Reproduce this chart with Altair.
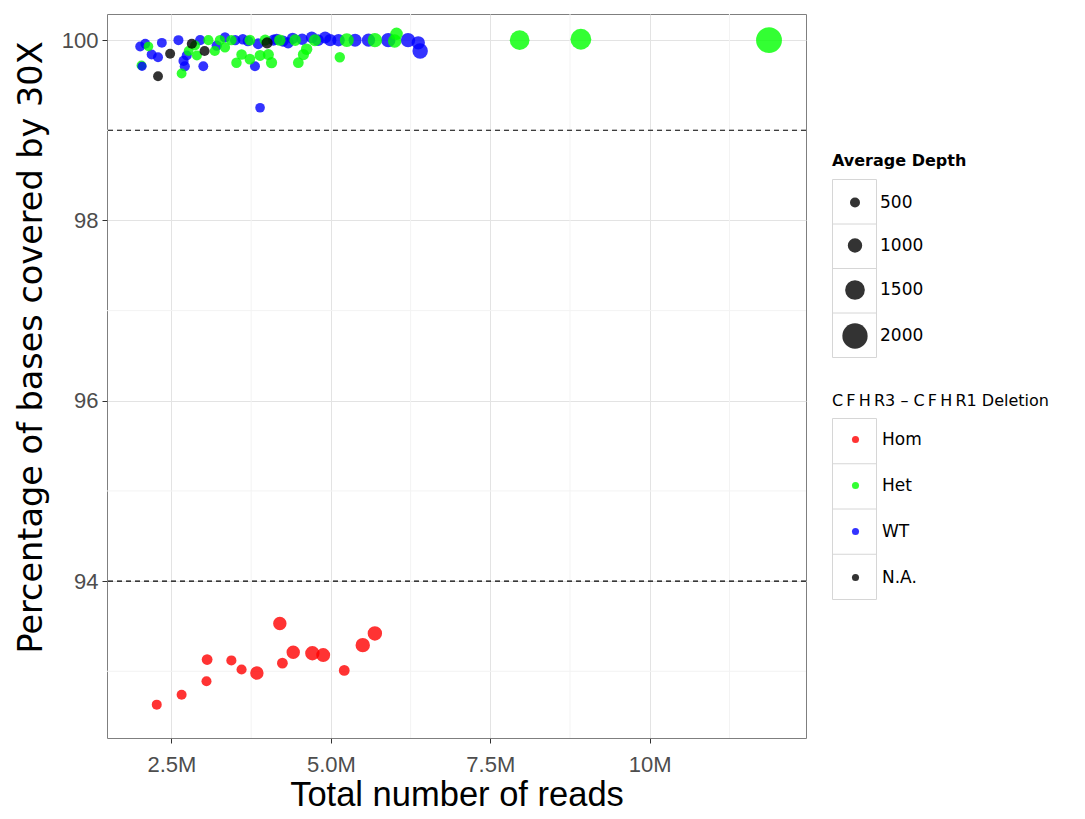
import altair as alt
import pandas as pd

# ---- data (reads in millions) ----
groups = ["Hom", "Het", "WT", "N.A."]
group_colors = ["#FF0000", "#00FF00", "#0000FF", "#000000"]
depth_levels = [500, 1000, 1500, 2000]

x_major = [2.5, 5.0, 7.5, 10.0]
x_minor = [3.75, 6.25, 8.75, 11.25]
y_major = [94, 96, 98, 100]
y_minor = [93, 95, 97, 99]
cutoffs = [99, 94]

het_early_reads = [2.03]
het_early_pct = [99.72]
het_early_depth = [470]

wt_reads = [2.01, 2.09, 2.04, 2.19, 2.29, 2.35, 2.61, 2.69, 2.74, 2.71, 2.95, 3.00,
            3.21, 3.34, 3.50, 3.62, 3.70, 3.81, 3.86, 3.89, 4.10, 4.15, 4.25, 4.33,
            4.40, 4.55, 4.70, 4.80, 4.91, 4.99, 5.12, 5.38, 5.59, 5.90, 6.21, 6.37, 6.40]
wt_pct = [99.93, 99.96, 99.71, 99.84, 99.81, 99.97, 100.00, 99.77, 99.83, 99.71, 100.00, 99.71,
          99.94, 100.03, 100.00, 100.01, 99.99, 99.71, 99.96, 99.25, 100.00, 100.01, 99.99, 99.97,
          100.02, 100.01, 100.03, 100.00, 100.03, 100.00, 100.00, 100.00, 100.00, 100.00, 100.00, 99.97, 99.88]
wt_depth = [480, 470, 380, 500, 500, 480, 500, 520, 500, 520, 520, 480,
            540, 540, 560, 570, 580, 500, 600, 450, 640, 650, 650, 660,
            680, 700, 720, 720, 750, 780, 800, 850, 880, 1000, 1000, 900, 1100]

het_reads = [2.14, 2.66, 2.77, 2.87, 2.90, 3.08, 3.18, 3.26, 3.34, 3.44, 3.52, 3.60,
             3.73, 3.73, 3.89, 3.97, 4.02, 4.07, 4.20, 4.44, 4.49, 4.57, 4.62, 4.75,
             5.14, 5.25, 5.69, 6.00, 6.03, 7.96, 8.92, 11.87]
het_pct = [99.93, 99.63, 99.88, 99.94, 99.83, 100.00, 99.88, 100.00, 99.92, 100.00, 99.75, 99.84,
           99.79, 100.00, 99.83, 100.00, 99.84, 99.75, 100.00, 100.00, 99.75, 99.84, 99.90, 100.00,
           99.81, 100.00, 100.00, 99.99, 100.07, 100.00, 100.01, 100.00]
het_depth = [450, 480, 480, 500, 500, 520, 520, 540, 540, 560, 560, 580,
             600, 600, 620, 650, 640, 650, 680, 700, 600, 650, 680, 750,
             560, 950, 1000, 900, 800, 1500, 1600, 2050]

na_reads = [2.29, 2.48, 2.82, 3.02, 4.00]
na_pct = [99.60, 99.85, 99.96, 99.88, 99.97]
na_depth = [480, 500, 520, 520, 650]

hom_reads = [2.27, 2.66, 3.06, 3.05, 3.44, 3.60, 3.84, 4.20, 4.24, 4.41, 4.71, 4.88, 5.21, 5.50, 5.69]
hom_pct = [92.63, 92.74, 93.13, 92.89, 93.12, 93.02, 92.98, 93.53, 93.09, 93.21, 93.20, 93.18, 93.01, 93.29, 93.42]
hom_depth = [500, 500, 600, 500, 520, 520, 900, 900, 600, 900, 1000, 950, 600, 1000, 1000]


def block(reads, pct, depth, name):
    return pd.DataFrame({"reads": reads, "pct": pct, "depth": depth, "deletion": name})


df = pd.concat([
    block(het_early_reads, het_early_pct, het_early_depth, "Het"),
    block(wt_reads, wt_pct, wt_depth, "WT"),
    block(het_reads, het_pct, het_depth, "Het"),
    block(na_reads, na_pct, na_depth, "N.A."),
    block(hom_reads, hom_pct, hom_depth, "Hom"),
], ignore_index=True)

FONT = "Liberation Sans"
LFONT = "DejaVu Sans"
BOX = "#d6d6d6"


def key_frame(side, box_w, n):
    """SVG path (unit square -1..1) of a column of n stacked legend-key boxes."""
    hw = box_w / side
    p = "M%.4f,-1H%.4fV1H%.4fZ" % (-hw, hw, -hw)
    for i in range(1, n):
        yy = -1 + 2.0 * i / n
        p += " M%.4f,%.4fH%.4f" % (-hw, yy, hw)
    return p


SIZE_SIDE = 178.0
COLOR_SIDE = 181.0
size_frame = key_frame(SIZE_SIDE, 44.0, len(depth_levels))
color_frame = key_frame(COLOR_SIDE, 44.0, len(groups))

x_scale = alt.Scale(domain=[1.49, 12.45], nice=False, zero=False)
y_scale = alt.Scale(domain=[92.26, 100.29], nice=False, zero=False)

x_axis = alt.Axis(
    values=x_major, grid=True, gridColor="#e3e3e3", domain=False,
    labelExpr="datum.value == 10 ? '10M' : format(datum.value, '.1f') + 'M'",
    tickColor="#333333", tickSize=5, labelPadding=11, labelFontSize=22,
    labelColor="#4d4d4d", labelFont=FONT, title="Total number of reads",
    titleFontSize=34.5, titleFont=FONT, titleFontWeight="normal", titleColor="#000000",
    titlePadding=3,
)
y_axis = alt.Axis(
    values=y_major, grid=True, gridColor="#e3e3e3", domain=False,
    tickColor="#333333", tickSize=5, labelPadding=4, labelFontSize=22,
    labelColor="#4d4d4d", labelFont=FONT, title="Percentage of bases covered by 30X",
    titleFontSize=33.5, titleFont=LFONT, titleFontWeight="normal", titleColor="#000000",
    titlePadding=13, titleY=333,
)

minor_v = alt.Chart(pd.DataFrame({"reads": x_minor})).mark_rule(
    color="#f3f3f3", strokeWidth=1
).encode(x=alt.X("reads:Q", scale=x_scale, axis=x_axis))

minor_h = alt.Chart(pd.DataFrame({"pct": y_minor})).mark_rule(
    color="#f3f3f3", strokeWidth=1
).encode(y=alt.Y("pct:Q", scale=y_scale, axis=y_axis))

cut = alt.Chart(pd.DataFrame({"pct": cutoffs})).mark_rule(
    color="#000000", strokeWidth=1.1, strokeDash=[5, 4]
).encode(y=alt.Y("pct:Q", scale=y_scale, axis=y_axis))

# invisible layers whose legends draw the grey key boxes behind the real legends
size_boxes = alt.Chart(pd.DataFrame({"skey": ["size-keys"]})).mark_point(opacity=0).encode(
    shape=alt.Shape(
        "skey:N",
        scale=alt.Scale(domain=["size-keys"], range=[size_frame]),
        legend=alt.Legend(
            title=None, orient="none", legendX=725 + 22 - SIZE_SIDE / 2, legendY=165,
            labelExpr="''", symbolSize=SIZE_SIDE ** 2, symbolFillColor="white",
            symbolStrokeColor=BOX, symbolStrokeWidth=1, symbolOpacity=1,
            symbolOffset=0, zindex=0,
        ),
    )
)
color_boxes = alt.Chart(pd.DataFrame({"ckey": ["color-keys"]})).mark_point(opacity=0).encode(
    stroke=alt.Stroke(
        "ckey:N",
        scale=alt.Scale(domain=["color-keys"], range=[BOX]),
        legend=alt.Legend(
            title=None, orient="none", legendX=725 + 22 - COLOR_SIDE / 2, legendY=404,
            labelExpr="''", symbolType=color_frame, symbolSize=COLOR_SIDE ** 2,
            symbolFillColor="white", symbolStrokeWidth=1, symbolOpacity=1,
            symbolOffset=0, zindex=0,
        ),
    )
)

points = alt.Chart(df).mark_circle(opacity=0.8).encode(
    x=alt.X("reads:Q", scale=x_scale, axis=x_axis),
    y=alt.Y("pct:Q", scale=y_scale, axis=y_axis),
    size=alt.Size(
        "depth:Q",
        scale=alt.Scale(type="pow", exponent=2, domain=[500, 2000], range=[100, 640]),
        legend=alt.Legend(
            title="Average Depth", values=depth_levels, format="d", orient="none",
            legendX=725, legendY=139, titleFontSize=16, titleFont=LFONT,
            titleFontWeight="bold", titleColor="#000000", labelFontSize=17,
            labelFont=LFONT, labelColor="#000000", symbolFillColor="#333333",
            symbolStrokeWidth=0, symbolOpacity=1, symbolType="circle",
            gridAlign="all", rowPadding=16, titlePadding=25, symbolOffset=10,
            labelOffset=12, zindex=1,
        ),
    ),
    color=alt.Color(
        "deletion:N",
        scale=alt.Scale(domain=groups, range=group_colors),
        legend=alt.Legend(
            title="C\u2009F\u2009H\u2009R3 \u2013 C\u2009F\u2009H\u2009R1 Deletion", orient="none",
            legendX=725, legendY=379, titleFontSize=16, titleFont=LFONT,
            titleFontWeight="normal", titleColor="#000000", titleLimit=320,
            labelFontSize=17, labelFont=LFONT, labelColor="#000000", symbolSize=50,
            symbolStrokeWidth=0, symbolOpacity=0.8, symbolType="circle",
            gridAlign="all", rowPadding=28, titlePadding=22, symbolOffset=15,
            labelOffset=18, zindex=1,
        ),
    ),
)

chart = alt.layer(minor_v, minor_h, cut, size_boxes, color_boxes, points).properties(
    width=699, height=724,
    autosize=alt.AutoSizeParams(type="none"),
    padding={"left": 99, "top": 6, "right": 271, "bottom": 73},
    background="white",
).configure_view(stroke="#7f7f7f", strokeWidth=1, fill="white")

chart.save("out.html", embed_options={"renderer": "svg", "actions": False})
